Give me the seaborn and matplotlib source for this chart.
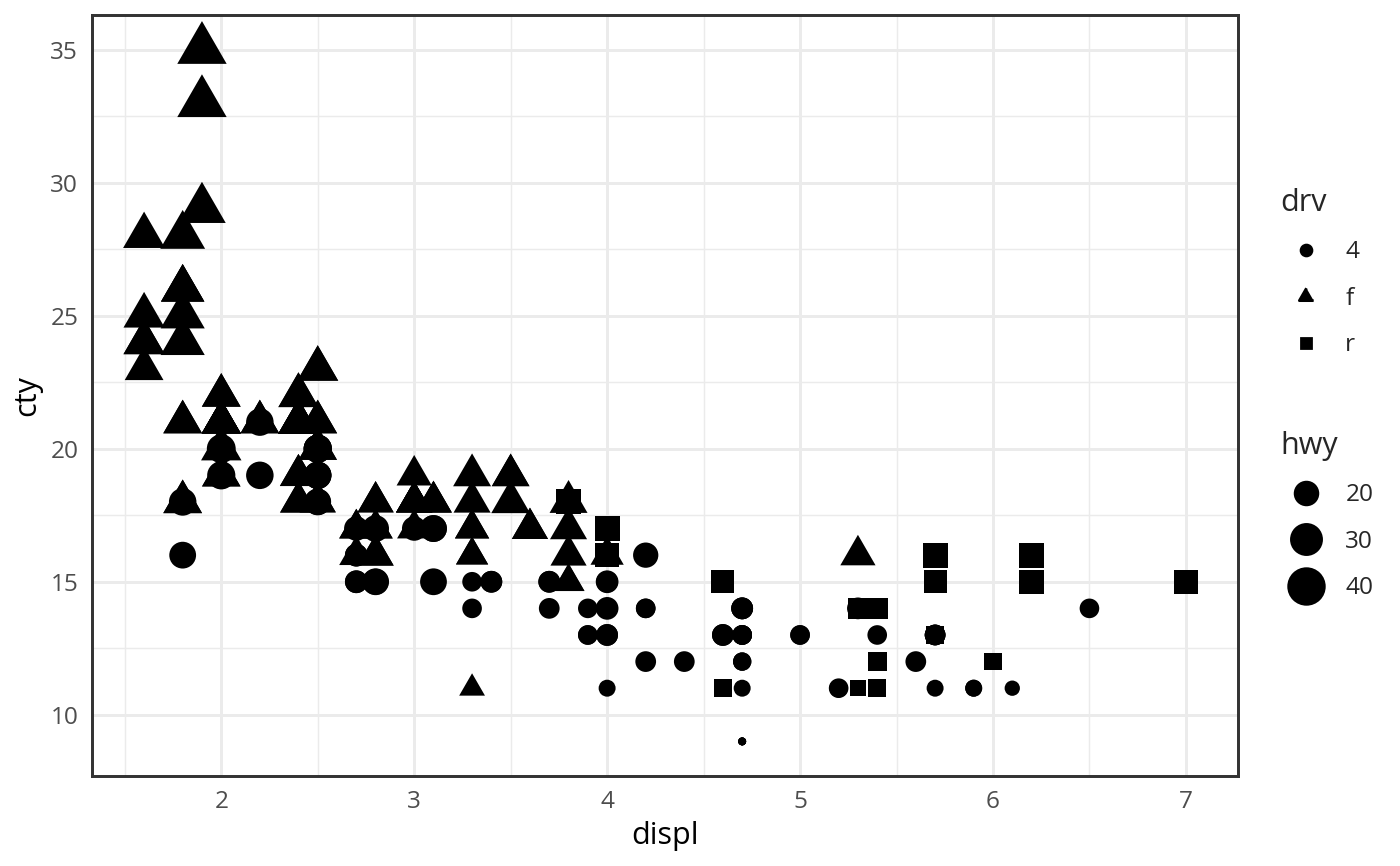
import numpy as np
import pandas as pd
import matplotlib.pyplot as plt
import seaborn as sns
from matplotlib.lines import Line2D
from matplotlib.ticker import MultipleLocator

# mpg data, 10 rows per line
displ = [1.8, 1.8, 2.0, 2.0, 2.8, 2.8, 3.1, 1.8, 1.8, 2.0,
         2.0, 2.8, 2.8, 3.1, 3.1, 2.8, 3.1, 4.2, 5.3, 5.3,
         5.3, 5.7, 6.0, 5.7, 5.7, 6.2, 6.2, 7.0, 5.3, 5.3,
         5.7, 6.5, 2.4, 2.4, 3.1, 3.5, 3.6, 2.4, 3.0, 3.3,
         3.3, 3.3, 3.3, 3.3, 3.8, 3.8, 3.8, 4.0, 3.7, 3.7,
         3.9, 3.9, 4.7, 4.7, 4.7, 5.2, 5.2, 3.9, 4.7, 4.7,
         4.7, 5.2, 5.7, 5.9, 4.7, 4.7, 4.7, 4.7, 4.7, 4.7,
         5.2, 5.2, 5.7, 5.9, 4.6, 5.4, 5.4, 4.0, 4.0, 4.0,
         4.0, 4.6, 5.0, 4.2, 4.2, 4.6, 4.6, 4.6, 5.4, 5.4,
         3.8, 3.8, 4.0, 4.0, 4.6, 4.6, 4.6, 4.6, 5.4, 1.6,
         1.6, 1.6, 1.6, 1.6, 1.8, 1.8, 1.8, 2.0, 2.4, 2.4,
         2.4, 2.4, 2.5, 2.5, 3.3, 2.0, 2.0, 2.0, 2.0, 2.7,
         2.7, 2.7, 3.0, 3.7, 4.0, 4.7, 4.7, 4.7, 5.7, 6.1,
         4.0, 4.2, 4.4, 4.6, 5.4, 5.4, 5.4, 4.0, 4.0, 4.6,
         5.0, 2.4, 2.4, 2.5, 2.5, 3.5, 3.5, 3.0, 3.0, 3.5,
         3.3, 3.3, 4.0, 5.6, 3.1, 3.8, 3.8, 3.8, 5.3, 2.5,
         2.5, 2.5, 2.5, 2.5, 2.5, 2.2, 2.2, 2.5, 2.5, 2.5,
         2.5, 2.5, 2.5, 2.7, 2.7, 3.4, 3.4, 4.0, 4.7, 2.2,
         2.2, 2.4, 2.4, 3.0, 3.0, 3.5, 2.2, 2.2, 2.4, 2.4,
         3.0, 3.0, 3.3, 1.8, 1.8, 1.8, 1.8, 1.8, 4.7, 5.7,
         2.7, 2.7, 2.7, 3.4, 3.4, 4.0, 4.0, 2.0, 2.0, 2.0,
         2.0, 2.8, 1.9, 2.0, 2.0, 2.0, 2.0, 2.5, 2.5, 2.8,
         2.8, 1.9, 1.9, 2.0, 2.0, 2.5, 2.5, 1.8, 1.8, 2.0,
         2.0, 2.8, 2.8, 3.6]
cty = [18, 21, 20, 21, 16, 18, 18, 18, 16, 20,
       19, 15, 17, 17, 15, 15, 17, 16, 14, 11,
       14, 13, 12, 16, 15, 16, 15, 15, 14, 11,
       11, 14, 19, 22, 18, 18, 17, 18, 17, 16,
       16, 17, 17, 11, 15, 15, 16, 16, 15, 14,
       13, 14, 14, 14, 9, 11, 11, 13, 13, 9,
       13, 11, 13, 11, 12, 9, 13, 13, 12, 9,
       11, 11, 13, 11, 11, 11, 12, 14, 15, 14,
       13, 13, 13, 14, 14, 13, 13, 13, 11, 13,
       18, 18, 17, 16, 15, 15, 15, 15, 14, 28,
       24, 25, 23, 24, 26, 25, 24, 21, 18, 18,
       21, 21, 18, 18, 19, 19, 19, 20, 20, 17,
       16, 17, 17, 15, 15, 14, 9, 14, 13, 11,
       11, 12, 12, 11, 11, 11, 12, 14, 13, 13,
       13, 21, 19, 23, 23, 19, 19, 18, 19, 19,
       14, 15, 14, 12, 18, 16, 17, 18, 16, 18,
       18, 20, 19, 20, 18, 21, 19, 19, 19, 20,
       20, 19, 20, 15, 16, 15, 15, 16, 14, 21,
       21, 21, 21, 18, 18, 19, 21, 21, 21, 22,
       18, 18, 18, 24, 24, 26, 28, 26, 11, 13,
       15, 16, 17, 15, 15, 15, 16, 21, 19, 21,
       22, 17, 33, 21, 19, 22, 21, 21, 21, 16,
       17, 35, 29, 21, 19, 20, 20, 21, 18, 19,
       21, 16, 18, 17]
hwy = [29, 29, 31, 30, 26, 26, 27, 26, 25, 28,
       27, 25, 25, 25, 25, 24, 25, 23, 20, 15,
       20, 17, 17, 26, 23, 26, 25, 24, 19, 14,
       15, 17, 27, 30, 26, 29, 26, 24, 24, 22,
       22, 24, 24, 17, 22, 21, 23, 23, 19, 18,
       17, 17, 19, 19, 12, 17, 15, 17, 17, 12,
       17, 16, 18, 15, 16, 12, 17, 17, 16, 12,
       15, 16, 17, 15, 17, 17, 18, 17, 19, 17,
       19, 19, 17, 17, 17, 16, 16, 17, 15, 17,
       26, 25, 26, 24, 21, 22, 23, 22, 20, 33,
       32, 32, 29, 32, 34, 36, 36, 29, 26, 27,
       30, 31, 26, 26, 28, 26, 29, 28, 27, 24,
       24, 24, 22, 19, 20, 17, 12, 19, 18, 14,
       15, 18, 18, 15, 17, 16, 18, 17, 19, 19,
       17, 29, 27, 31, 32, 27, 26, 26, 25, 25,
       17, 17, 20, 18, 26, 26, 27, 28, 25, 25,
       24, 27, 25, 26, 23, 26, 26, 26, 26, 25,
       27, 25, 27, 20, 20, 19, 17, 20, 17, 29,
       27, 31, 31, 26, 26, 28, 27, 29, 31, 31,
       26, 26, 27, 30, 33, 35, 37, 35, 15, 18,
       20, 20, 22, 17, 19, 18, 20, 29, 26, 29,
       29, 24, 44, 29, 26, 29, 29, 29, 29, 23,
       24, 44, 41, 29, 26, 28, 29, 29, 29, 28,
       29, 26, 26, 26]
drv = list("fffffff444" "44444444rr" "rrrrrrrr44" "44ffffffff" "ffffffff44"
           "4444444444" "4444444444" "4444rrr444" "4444444444" "rrrrrrrrrf"
           "ffffffffff" "ffffffffff" "ff44444444" "4444rrr444" "4fffffffff"
           "4444fffff4" "4444444444" "444444444f" "ffffffffff" "ffffffff44"
           "4444444fff" "ffffffffff" "ffffffffff" "ffff")

drv_levels = ["4", "f", "r"]
legend_hwy = [20, 30, 40]

df = pd.DataFrame({"displ": displ, "cty": cty, "hwy": hwy, "drv": drv})

PT = 72.27 / 25.4
TRI = [(0, 1), (-0.866, -0.5), (0.866, -0.5)]
# marker and factor: matplotlib markersize = factor * point fontsize
SHAPES = {"4": ("o", 0.75), "f": (TRI, 1.14), "r": ("s", 0.68)}

lo, hi = min(hwy), max(hwy)


def fontsize_of(h):
    size_mm = 1 + 5 * np.sqrt((h - lo) / (hi - lo))
    return size_mm * PT + 0.5 * 96 / 25.4 / 2


sns.set_style("white")
plt.rcParams["font.family"] = ["Open Sans", "DejaVu Sans"]

fig, ax = plt.subplots(figsize=(7, 4.33), dpi=200)
fig.subplots_adjust(left=92 / 1400, right=1238 / 1400, bottom=1 - 776 / 866, top=1 - 15 / 866)

for d in drv_levels:
    sub = df[df["drv"] == d]
    marker, k = SHAPES[d]
    sizes = {h: (k * fontsize_of(h)) ** 2 for h in sorted(sub["hwy"].unique())}
    sns.scatterplot(data=sub, x="displ", y="cty", size="hwy", sizes=sizes,
                    marker=marker, color="black", linewidth=0, edgecolor="none",
                    legend=False, ax=ax, zorder=3)

xr = max(displ) - min(displ)
yr = max(cty) - min(cty)
ax.set_xlim(min(displ) - 0.05 * xr, max(displ) + 0.05 * xr)
ax.set_ylim(min(cty) - 0.05 * yr, max(cty) + 0.05 * yr)

ax.xaxis.set_major_locator(MultipleLocator(1))
ax.xaxis.set_minor_locator(MultipleLocator(0.5))
ax.yaxis.set_major_locator(MultipleLocator(5))
ax.yaxis.set_minor_locator(MultipleLocator(2.5))

ax.grid(which="major", color="#EBEBEB", linewidth=1.07)
ax.grid(which="minor", color="#EBEBEB", linewidth=0.53)
ax.set_axisbelow(True)
for sp in ax.spines.values():
    sp.set_color("#333333")
    sp.set_linewidth(1.07)
    sp.set_visible(True)

ax.tick_params(which="major", length=2.75, width=1.07, color="#333333",
               labelsize=8.8, labelcolor="#4D4D4D", pad=2.2)
ax.tick_params(which="minor", length=0)

ax.set_xlabel("displ", fontsize=11, color="black", labelpad=2.75)
ax.set_ylabel("cty", fontsize=11, color="black", labelpad=2.75)

# legends
leg_kw = dict(loc="upper left", frameon=False, fontsize=8.8, title_fontsize=11,
              alignment="left", handlelength=2.1, labelspacing=0.92,
              handletextpad=0.57, borderpad=0, borderaxespad=0)

drv_handles = [Line2D([], [], ls="", color="black", marker=SHAPES[d][0],
                      markersize=SHAPES[d][1] * (1.5 * PT + 0.945)) for d in drv_levels]
leg1 = fig.legend(drv_handles, drv_levels, title="drv",
                  bbox_to_anchor=(1280 / 1400, 1 - 188 / 866), **leg_kw)

hwy_handles = [Line2D([], [], ls="", color="black", marker="o",
                      markersize=0.75 * fontsize_of(h)) for h in legend_hwy]
leg2 = fig.legend(hwy_handles, [str(h) for h in legend_hwy], title="hwy",
                  bbox_to_anchor=(1280 / 1400, 1 - 431 / 866), **leg_kw)

fig.savefig("out.png", dpi=200)
